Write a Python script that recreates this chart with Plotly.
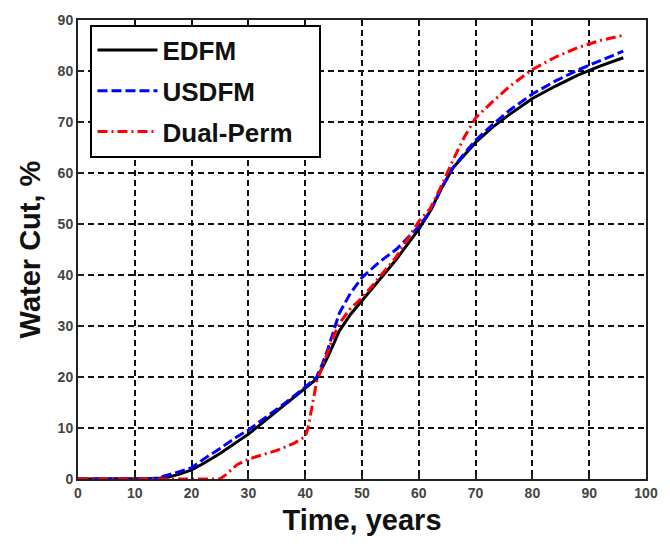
import plotly.graph_objects as go

# Water cut vs time for three fracture models
edfm_t = [0, 10, 14, 16, 18, 20, 22, 25, 28, 30, 33, 36, 40, 42, 44, 46, 48, 50,
          53, 56, 60, 62, 64, 66, 68, 70, 73, 76, 80, 84, 88, 92, 96]
edfm_wc = [0, 0, 0.1, 0.4, 1.0, 1.8, 3.0, 5.0, 7.3, 8.8, 11.5, 14.2, 17.7, 19.6, 24.0,
           29.0, 32.3, 35.0, 39.0, 43.0, 49.0, 52.5, 57.0, 61.0, 63.5, 66.0, 69.0,
           71.5, 74.6, 77.0, 79.2, 81.0, 82.6]

usdfm_t = [0, 12, 14, 16, 18, 20, 22, 25, 28, 30, 33, 36, 40, 42, 43, 44, 45, 46, 48,
           50, 53, 56, 60, 62, 64, 66, 68, 70, 73, 76, 80, 84, 88, 92, 96]
usdfm_wc = [0, 0, 0.2, 0.8, 1.5, 2.2, 3.8, 6.0, 8.3, 9.6, 12.0, 14.5, 18.0, 20.0, 22.5,
            25.5, 29.0, 32.5, 36.5, 39.5, 42.5, 45.0, 49.5, 52.5, 57.0, 61.0, 63.8,
            66.4, 69.5, 72.3, 75.5, 78.0, 80.2, 82.0, 83.9]

dual_t = [0, 10, 20, 25, 26, 27, 28, 30, 32, 35, 38, 40, 40.5, 41, 41.5, 42, 43, 44,
          45, 46, 48, 50, 53, 56, 60, 62, 64, 66, 68, 70, 73, 76, 80, 84, 88, 92, 96]
dual_wc = [0, 0, 0, 0, 0.8, 1.8, 2.8, 3.9, 4.6, 5.6, 7.0, 8.3, 10.0, 13.0, 16.0, 19.0,
           22.0, 25.0, 28.0, 30.5, 33.5, 35.5, 39.5, 43.5, 50.5, 53.0, 57.5, 62.5,
           67.0, 70.8, 74.0, 77.0, 80.3, 82.7, 84.6, 86.0, 87.0]

x_ticks = list(range(0, 101, 10))
y_ticks = list(range(0, 91, 10))

FONT = "Liberation Sans, Arial, sans-serif"
PAD = "&nbsp;&nbsp;&nbsp;"

fig = go.Figure()
fig.add_trace(go.Scatter(x=edfm_t, y=edfm_wc, mode="lines", name="<b>EDFM</b>" + PAD,
                         legendgroup="a",
                         line=dict(color="black", width=3)))
fig.add_trace(go.Scatter(x=usdfm_t, y=usdfm_wc, mode="lines", name="<b>USDFM</b>" + PAD,
                         legendgroup="b",
                         line=dict(color="#0000ff", width=3, dash="10px,4px")))
fig.add_trace(go.Scatter(x=dual_t, y=dual_wc, mode="lines", name="<b>Dual-Perm</b>" + PAD,
                         legendgroup="c",
                         line=dict(color="#ff0000", width=3, dash="10px,4px,2px,4px")))

axis_common = dict(
    showline=True, linecolor="#222", linewidth=2, mirror=True,
    ticks="inside", ticklen=5, tickcolor="#222", tickwidth=1.5,
    showgrid=True, gridcolor="#111", gridwidth=1.6, griddash="6px,4px",
    zeroline=False,
    tickfont=dict(family=FONT, size=14, color="#444", weight="bold"),
)

fig.update_xaxes(range=[0, 100], tickvals=x_ticks, ticktext=[str(v) for v in x_ticks],
                 title=dict(text="<b>Time, years</b>", standoff=10,
                            font=dict(family=FONT, size=29, color="#111")),
                 **axis_common)
fig.update_yaxes(range=[0, 90], tickvals=y_ticks, ticktext=[str(v) for v in y_ticks],
                 title=dict(text="<b>Water Cut, %</b>", standoff=8,
                            font=dict(family=FONT, size=29, color="#111")),
                 **axis_common)

fig.update_layout(
    width=670, height=548,
    margin=dict(l=78, r=13, t=13, b=69),
    plot_bgcolor="white", paper_bgcolor="white",
    legend=dict(x=0.022, y=0.99, xanchor="left", yanchor="top",
                bgcolor="white", bordercolor="black", borderwidth=2,
                font=dict(family=FONT, size=26, color="#111"),
                tracegroupgap=4, itemwidth=60),
)

fig.write_html("out.html")
